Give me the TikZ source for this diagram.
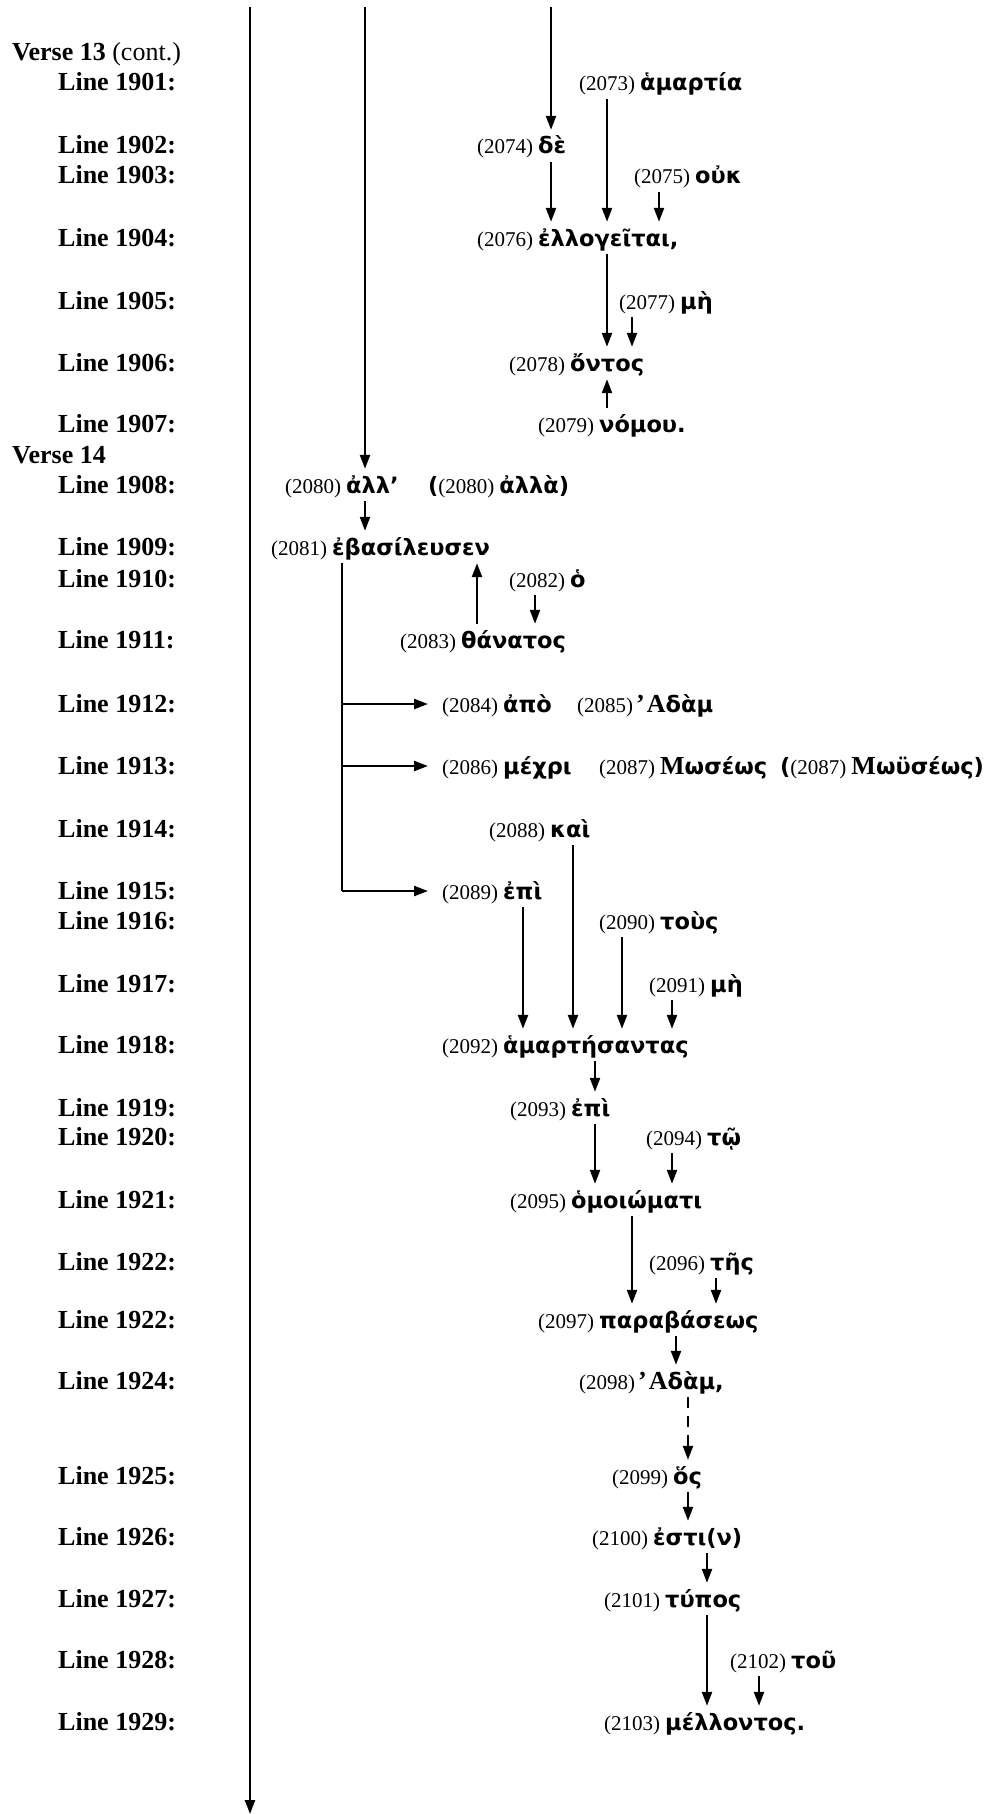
\documentclass[tikz,border=0pt]{standalone}
\usepackage{fontspec}
\setmainfont{Liberation Serif}
\newfontfamily\grkfamily{DejaVu Sans}
\usetikzlibrary{arrows.meta}

% type sizes (1pt = 1 unit of the picture)
\newcommand\numsz{\fontsize{21}{21}\selectfont\rmfamily\mdseries}
\newcommand\grksz{\fontsize{22.5}{22.5}\selectfont\grkfamily\bfseries}
\newcommand\capsz{\fontsize{26}{26}\selectfont\rmfamily\bfseries}
\newcommand\labsz{\fontsize{26}{26}\selectfont\rmfamily\bfseries}
% numbered Greek word: (n) word
\newcommand\entry[2]{{\numsz(#1)}\kern5pt{\grksz #2}}
% serif capital inside a Greek word
\newcommand\sercap[1]{{\capsz #1}}

\tikzset{
  lab/.style={anchor=base west, inner sep=0pt, font=\labsz},
  word/.style={anchor=base west, inner sep=0pt, text height=24pt, text depth=8pt},
  link/.style={line width=2.3pt, -{Triangle[length=14pt,width=10pt]}},
  rule/.style={line width=2.3pt},
  dlink/.style={link, dash pattern=on 11pt off 8pt}
}

\begin{document}
\begin{tikzpicture}[x=1pt,y=-1pt]
\useasboundingbox (0,0) rectangle (992,1814);
\fill[white] (0,0) rectangle (992,1814);

% ---- line labels ----
\node[lab] (v13) at (12,61) {Verse 13 {\mdseries (cont.)}};
\node[lab] (l1901) at (58,91) {Line 1901:};
\node[lab] (l1902) at (58,154) {Line 1902:};
\node[lab] (l1903) at (58,184) {Line 1903:};
\node[lab] (l1904) at (58,246) {Line 1904:};
\node[lab] (l1905) at (58,309) {Line 1905:};
\node[lab] (l1906) at (58,371) {Line 1906:};
\node[lab] (l1907) at (58,432) {Line 1907:};
\node[lab] (v14) at (12,463) {Verse 14};
\node[lab] (l1908) at (58,493) {Line 1908:};
\node[lab] (l1909) at (58,555) {Line 1909:};
\node[lab] (l1910) at (58,587) {Line 1910:};
\node[lab] (l1911) at (58,648) {Line 1911:};
\node[lab] (l1912) at (58,712) {Line 1912:};
\node[lab] (l1913) at (58,774) {Line 1913:};
\node[lab] (l1914) at (58,837) {Line 1914:};
\node[lab] (l1915) at (58,899) {Line 1915:};
\node[lab] (l1916) at (58,929) {Line 1916:};
\node[lab] (l1917) at (58,992) {Line 1917:};
\node[lab] (l1918) at (58,1053) {Line 1918:};
\node[lab] (l1919) at (58,1116) {Line 1919:};
\node[lab] (l1920) at (58,1145) {Line 1920:};
\node[lab] (l1921) at (58,1208) {Line 1921:};
\node[lab] (l1922) at (58,1270) {Line 1922:};
\node[lab] (l1922b) at (58,1328) {Line 1922:};
\node[lab] (l1924) at (58,1389) {Line 1924:};
\node[lab] (l1925) at (58,1484) {Line 1925:};
\node[lab] (l1926) at (58,1545) {Line 1926:};
\node[lab] (l1927) at (58,1607) {Line 1927:};
\node[lab] (l1928) at (58,1668) {Line 1928:};
\node[lab] (l1929) at (58,1730) {Line 1929:};

% ---- words ----
\node[word] (w73) at (579,91) {\entry{2073}{ἁμαρτία}};
\node[word] (w74) at (477,154) {\entry{2074}{δὲ}};
\node[word] (w75) at (634,184) {\entry{2075}{οὐκ}};
\node[word] (w76) at (477,246) {\entry{2076}{ἐλλογεῖται,}};
\node[word] (w77) at (619,309) {\entry{2077}{μὴ}};
\node[word] (w78) at (509,371) {\entry{2078}{ὄντος}};
\node[word] (w79) at (538,432) {\entry{2079}{νόμου.}};
\node[word] (w80) at (285,493) {\entry{2080}{ἀλλ’}};
\node[word] (w80b) at (428,493) {{\grksz(}\entry{2080}{ἀλλὰ)}};
\node[word] (w81) at (271,555) {\entry{2081}{ἐβασίλευσεν}};
\node[word] (w82) at (509,587) {\entry{2082}{ὁ}};
\node[word] (w83) at (400,648) {\entry{2083}{θάνατος}};
\node[word] (w84) at (442,712) {\entry{2084}{ἀπὸ}};
\node[word] (w85) at (577,712) {{\numsz(2085)}\kern3pt{\grksz\sercap{’\kern2pt Α}δὰμ}};
\node[word] (w86) at (442,774) {\entry{2086}{μέχρι}};
\node[word] (w87) at (599,774) {\entry{2087}{\sercap{Μ}ωσέως}};
\node[word] (w87b) at (780,774) {{\grksz(}\entry{2087}{\sercap{Μ}ωϋσέως)}};
\node[word] (w88) at (489,837) {\entry{2088}{καὶ}};
\node[word] (w89) at (442,899) {\entry{2089}{ἐπὶ}};
\node[word] (w90) at (599,929) {\entry{2090}{τοὺς}};
\node[word] (w91) at (649,992) {\entry{2091}{μὴ}};
\node[word] (w92) at (442,1053) {\entry{2092}{ἁμαρτήσαντας}};
\node[word] (w93) at (510,1116) {\entry{2093}{ἐπὶ}};
\node[word] (w94) at (646,1145) {\entry{2094}{τῷ}};
\node[word] (w95) at (510,1208) {\entry{2095}{ὁμοιώματι}};
\node[word] (w96) at (649,1270) {\entry{2096}{τῆς}};
\node[word] (w97) at (538,1328) {\entry{2097}{παραβάσεως}};
\node[word] (w98) at (579,1389) {{\numsz(2098)}\kern3pt{\grksz\sercap{’\kern2pt Α}δὰμ,}};
\node[word] (w99) at (612,1484) {\entry{2099}{ὅς}};
\node[word] (w100) at (592,1545) {\entry{2100}{ἐστι(ν)}};
\node[word] (w101) at (604,1607) {\entry{2101}{τύπος}};
\node[word] (w102) at (730,1668) {\entry{2102}{τοῦ}};
\node[word] (w103) at (604,1730) {\entry{2103}{μέλλοντος.}};

% ---- column positions of the connectors ----
\coordinate (c250) at (250,0);
\coordinate (c342) at (342,0);
\coordinate (c365) at (365,0);
\coordinate (c477) at (477,0);
\coordinate (c523) at (523,0);
\coordinate (c535) at (535,0);
\coordinate (c551) at (551,0);
\coordinate (c573) at (573,0);
\coordinate (c595) at (595,0);
\coordinate (c607) at (607,0);
\coordinate (c622) at (622,0);
\coordinate (c632) at (632,0);
\coordinate (c659) at (659,0);
\coordinate (c672) at (672,0);
\coordinate (c676) at (676,0);
\coordinate (c688) at (688,0);
\coordinate (c707) at (707,0);
\coordinate (c716) at (716,0);
\coordinate (c759) at (759,0);

% free ends of the long column lines
\coordinate (mainTop) at (250,7);
\coordinate (mainEnd) at (250,1814);
\coordinate (colTop) at (365,7);
\coordinate (deTop) at (551,7);

% ---- connectors ----
\draw[link] (mainTop) -- (mainEnd);
\draw[link] (colTop) -- (w80.north -| c365);
\draw[link] (deTop) -- (w74.north -| c551);

\draw[link] (w73.south -| c607) -- (w76.north -| c607);
\draw[link] (w74.south -| c551) -- (w76.north -| c551);
\draw[link] (w75.south -| c659) -- (w76.north -| c659);
\draw[link] (w76.south -| c607) -- (w78.north -| c607);
\draw[link] (w77.south -| c632) -- (w78.north -| c632);
\draw[link] (w79.north -| c607) -- (w78.south -| c607);

\draw[link] (w80.south -| c365) -- (w81.north -| c365);
\draw[link] (w83.north -| c477) -- (w81.south -| c477);
\draw[link] (w82.south -| c535) -- (w83.north -| c535);

\draw[rule] (w81.south -| c342) -- (w89.west -| c342);
\draw[link] (w84.west -| c342) -- ([xshift=-14pt]w84.west);
\draw[link] (w86.west -| c342) -- ([xshift=-14pt]w86.west);
\draw[link] (w89.west -| c342) -- ([xshift=-14pt]w89.west);

\draw[link] (w89.south -| c523) -- (w92.north -| c523);
\draw[link] (w88.south -| c573) -- (w92.north -| c573);
\draw[link] (w90.south -| c622) -- (w92.north -| c622);
\draw[link] (w91.south -| c672) -- (w92.north -| c672);

\draw[link] (w92.south -| c595) -- (w93.north -| c595);
\draw[link] (w93.south -| c595) -- (w95.north -| c595);
\draw[link] (w94.south -| c672) -- (w95.north -| c672);

\draw[link] (w95.south -| c632) -- (w97.north -| c632);
\draw[link] (w96.south -| c716) -- (w97.north -| c716);
\draw[link] (w97.south -| c676) -- (w98.north -| c676);
\draw[dlink] (w98.south -| c688) -- (w99.north -| c688);
\draw[link] (w99.south -| c688) -- (w100.north -| c688);
\draw[link] (w100.south -| c707) -- (w101.north -| c707);
\draw[link] (w101.south -| c707) -- (w103.north -| c707);
\draw[link] (w102.south -| c759) -- (w103.north -| c759);
\end{tikzpicture}
\end{document}
